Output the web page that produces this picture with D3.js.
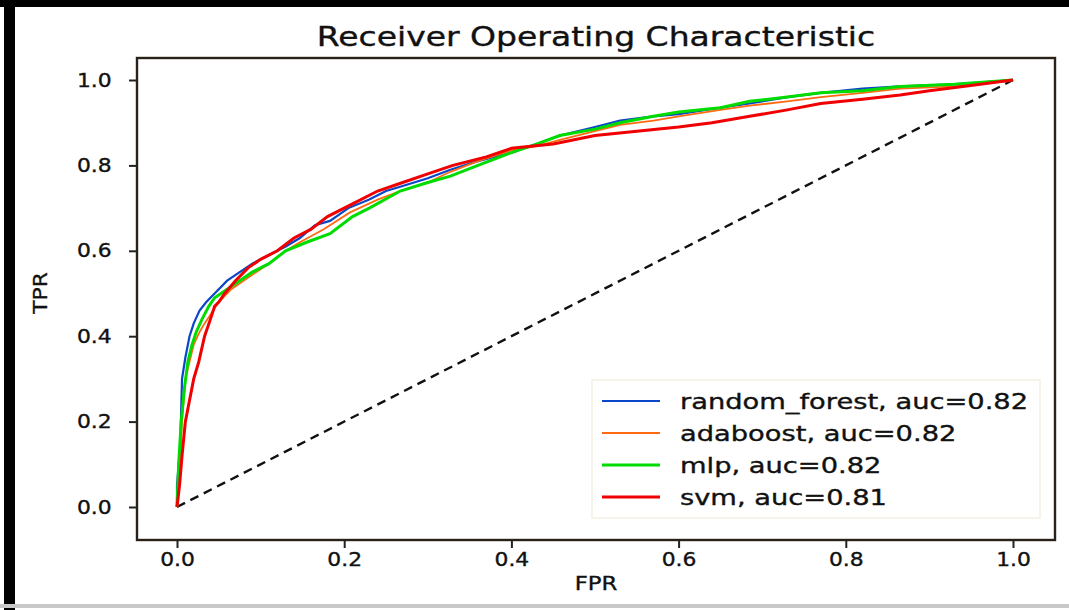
<!DOCTYPE html>
<html>
<head>
<meta charset="utf-8">
<script src="https://cdn.jsdelivr.net/npm/d3@7"></script>
<style>
  body { margin: 0; background: #fff; }
  text { font-family: "DejaVu Sans", sans-serif; fill: #111; stroke: #111; stroke-width: 0.35px; }
</style>
</head>
<body>
<div id="chart"></div>
<script>
// ROC points (fpr, tpr)
const rfFpr  = [0, 0, 0.004, 0.006, 0.01, 0.015, 0.02, 0.027, 0.035, 0.045, 0.06, 0.075, 0.09, 0.11, 0.13, 0.147, 0.165, 0.183, 0.205, 0.23, 0.25, 0.267, 0.3, 0.327, 0.36, 0.4, 0.43, 0.458, 0.5, 0.53, 0.57, 0.6, 0.65, 0.685, 0.73, 0.77, 0.82, 0.865, 0.93, 1];
const rfTpr  = [0, 0.05, 0.15, 0.3, 0.35, 0.4, 0.43, 0.46, 0.48, 0.5, 0.53, 0.55, 0.57, 0.59, 0.61, 0.63, 0.66, 0.67, 0.7, 0.72, 0.74, 0.75, 0.77, 0.79, 0.81, 0.83, 0.85, 0.87, 0.89, 0.905, 0.915, 0.92, 0.935, 0.945, 0.96, 0.97, 0.98, 0.985, 0.99, 1];

const adaFpr = [0, 0.003, 0.006, 0.01, 0.015, 0.02, 0.027, 0.033, 0.04, 0.05, 0.065, 0.087, 0.11, 0.13, 0.147, 0.175, 0.207, 0.24, 0.267, 0.3, 0.327, 0.36, 0.4, 0.43, 0.458, 0.5, 0.53, 0.57, 0.6, 0.65, 0.685, 0.73, 0.77, 0.82, 0.865, 0.93, 1];
const adaTpr = [0, 0.08, 0.2, 0.3, 0.34, 0.38, 0.41, 0.43, 0.45, 0.48, 0.51, 0.54, 0.57, 0.6, 0.62, 0.65, 0.69, 0.72, 0.74, 0.76, 0.785, 0.81, 0.835, 0.845, 0.86, 0.88, 0.895, 0.905, 0.915, 0.93, 0.94, 0.95, 0.96, 0.97, 0.98, 0.985, 1];

const mlpFpr = [0, 0.002, 0.005, 0.009, 0.013, 0.018, 0.023, 0.03, 0.038, 0.045, 0.06, 0.075, 0.09, 0.11, 0.13, 0.155, 0.183, 0.21, 0.23, 0.267, 0.3, 0.327, 0.36, 0.4, 0.43, 0.458, 0.5, 0.53, 0.57, 0.6, 0.65, 0.685, 0.73, 0.77, 0.82, 0.865, 0.93, 1];
const mlpTpr = [0, 0.1, 0.2, 0.28, 0.34, 0.38, 0.41, 0.44, 0.47, 0.49, 0.51, 0.53, 0.55, 0.57, 0.6, 0.62, 0.64, 0.68, 0.7, 0.74, 0.76, 0.775, 0.8, 0.83, 0.85, 0.87, 0.885, 0.9, 0.915, 0.925, 0.935, 0.95, 0.96, 0.97, 0.975, 0.985, 0.99, 1];

const svmFpr = [0, 0.003, 0.006, 0.01, 0.014, 0.02, 0.026, 0.033, 0.04, 0.045, 0.05, 0.057, 0.07, 0.085, 0.1, 0.12, 0.14, 0.16, 0.18, 0.21, 0.24, 0.27, 0.3, 0.33, 0.37, 0.4, 0.45, 0.5, 0.55, 0.6, 0.64, 0.685, 0.73, 0.77, 0.82, 0.865, 0.9, 0.94, 1];
const svmTpr = [0, 0.05, 0.12, 0.2, 0.24, 0.3, 0.34, 0.4, 0.44, 0.47, 0.48, 0.5, 0.53, 0.56, 0.58, 0.6, 0.63, 0.65, 0.68, 0.71, 0.74, 0.76, 0.78, 0.8, 0.82, 0.84, 0.85, 0.87, 0.88, 0.89, 0.9, 0.915, 0.93, 0.945, 0.955, 0.965, 0.975, 0.985, 1];

const diagFpr = [0, 1];
const diagTpr = [0, 1];

const seriesNames = ["random_forest", "adaboost", "mlp", "svm"];
const aucValues = [0.82, 0.82, 0.82, 0.81];
const xTicks = [0.0, 0.2, 0.4, 0.6, 0.8, 1.0];
const yTicks = [0.0, 0.2, 0.4, 0.6, 0.8, 1.0];

const width = 1069, height = 610;
const frame = { left: 137, right: 1055, top: 58, bottom: 540 };

const svg = d3.select("#chart").append("svg")
    .attr("width", width)
    .attr("height", height);

// page edges of the screenshot
svg.append("rect").attr("x", 4).attr("y", 0).attr("width", 11).attr("height", height).attr("fill", "#000");
svg.append("rect").attr("x", 0).attr("y", 0).attr("width", width).attr("height", 7).attr("fill", "#000");
svg.append("rect").attr("x", 0).attr("y", 604).attr("width", width).attr("height", 4).attr("fill", "#c8c8c8");

const x = d3.scaleLinear().domain([0, 1]).range([177, 1013]);
const y = d3.scaleLinear().domain([0, 1]).range([507, 80]);

const line = d3.line()
    .x(d => x(d[0]))
    .y(d => y(d[1]));

const curves = [
    { fpr: rfFpr, tpr: rfTpr, color: "#0a46c8", w: 2.2 },
    { fpr: adaFpr, tpr: adaTpr, color: "#ff6a10", w: 1.8 },
    { fpr: mlpFpr, tpr: mlpTpr, color: "#00dc00", w: 3 },
    { fpr: svmFpr, tpr: svmTpr, color: "#f00000", w: 3 }
];

// diagonal chance line
svg.append("path")
    .attr("d", line(d3.zip(diagFpr, diagTpr)))
    .attr("fill", "none")
    .attr("stroke", "#111")
    .attr("stroke-width", 2.4)
    .attr("stroke-dasharray", "9,6");

curves.forEach(c => {
    svg.append("path")
        .attr("d", line(d3.zip(c.fpr, c.tpr)))
        .attr("fill", "none")
        .attr("stroke", c.color)
        .attr("stroke-width", c.w)
        .attr("stroke-linejoin", "miter");
});

// axes frame
svg.append("rect")
    .attr("x", frame.left).attr("y", frame.top)
    .attr("width", frame.right - frame.left)
    .attr("height", frame.bottom - frame.top)
    .attr("fill", "none")
    .attr("stroke", "#2a2218")
    .attr("stroke-width", 2.4);

const xAxis = svg.append("g")
    .attr("transform", `translate(0,${frame.bottom})`)
    .call(d3.axisBottom(x).tickValues(xTicks).tickFormat(d3.format(".1f")).tickSize(8).tickPadding(5));
const yAxis = svg.append("g")
    .attr("transform", `translate(${frame.left},0)`)
    .call(d3.axisLeft(y).tickValues(yTicks).tickFormat(d3.format(".1f")).tickSize(8).tickPadding(14));

[xAxis, yAxis].forEach(a => {
    a.select(".domain").remove();
    a.selectAll("line").attr("stroke", "#222").attr("stroke-width", 2);
    a.selectAll("text")
        .style("font-size", "19px")
        .attr("fill", "#111")
        .attr("transform", "scale(1.15,1)");
});

svg.append("text")
    .attr("transform", "translate(596,46) scale(1.27,1)")
    .attr("text-anchor", "middle")
    .style("font-size", "26px")
    .text("Receiver Operating Characteristic");

svg.append("text")
    .attr("transform", "translate(596,590) scale(1.2,1)")
    .attr("text-anchor", "middle")
    .style("font-size", "19px")
    .text("FPR");

svg.append("text")
    .attr("transform", "translate(47,293) rotate(-90) scale(1.15,1)")
    .attr("text-anchor", "middle")
    .style("font-size", "19px")
    .text("TPR");

// legend
const legend = svg.append("g").attr("transform", "translate(592,380)");
legend.append("rect")
    .attr("width", 448).attr("height", 138)
    .attr("fill", "#fff")
    .attr("stroke", "#f3efe2")
    .attr("stroke-width", 1.5);

curves.forEach((c, i) => {
    const yy = 21 + i * 32;
    legend.append("line")
        .attr("x1", 10).attr("x2", 68)
        .attr("y1", yy).attr("y2", yy)
        .attr("stroke", c.color)
        .attr("stroke-width", c.w);
    legend.append("text")
        .attr("transform", `translate(88,${yy + 8}) scale(1.3,1)`)
        .style("font-size", "21px")
        .text(`${seriesNames[i]}, auc=${aucValues[i].toFixed(2)}`);
});
</script>
</body>
</html>
